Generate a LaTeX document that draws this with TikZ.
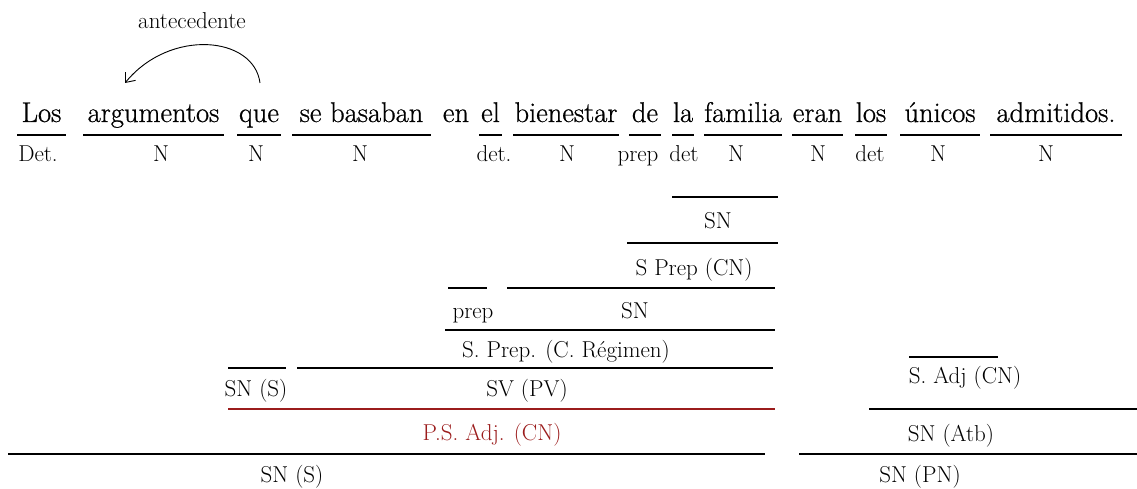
\documentclass[tikz,border=0pt]{standalone}
\usepackage{fontspec}
\newfontfamily\wordfont[FakeBold=0.7]{Latin Modern Roman}
\usetikzlibrary{arrows.meta}
\definecolor{adjred}{RGB}{155,28,28}
\tikzset{
  word/.style={anchor=base, inner sep=0pt, font=\wordfont\fontsize{28.5}{34}\selectfont},
  lbl/.style={anchor=base, inner sep=0pt, font=\fontsize{23}{28}\selectfont},
  redlbl/.style={lbl, text=adjred},
  rule/.style={line width=1.4pt},
  redrule/.style={line width=1.4pt, draw=adjred},
  refarrow/.style={line width=0.9pt, -{Straight Barb[length=8pt,width=13pt]}}
}
\begin{document}
\begin{tikzpicture}[x=1pt,y=-1pt]
\useasboundingbox (0,0) rectangle (1137,489);
% sentence
\node[word] (w1) at (41.5,122) {Los};
\node[word] (w2) at (153.5,122) {argumentos};
\node[word] (w3) at (259,122) {que};
\node[word] (w4) at (361.5,122) {se basaban};
\node[word] (w5) at (456,122) {en};
\node[word] (w6) at (490.5,122) {el};
\node[word] (w7) at (566,122) {bienestar};
\node[word] (w8) at (645,122) {de};
\node[word] (w9) at (683,122) {la};
\node[word] (w10) at (743,122) {familia};
\node[word] (w11) at (817.5,122) {eran};
\node[word] (w12) at (871,122) {los};
\node[word] (w13) at (940,122) {únicos};
\node[word] (w14) at (1056,122) {admitidos.};
% underlines
\foreach \a/\b in {17/66,83/224,237/281,292/431,479/502,513/619,629/661,672/694,704/782,792/843,855/887,900/980,990/1122}
  \draw[rule] (\a,135) -- (\b,135);
% word labels
\node[lbl] (c1) at (38,162) {Det.};
\node[lbl] (c2) at (161,162) {N};
\node[lbl] (c3) at (256,162) {N};
\node[lbl] (c4) at (360,162) {N};
\node[lbl] (c6) at (494,162) {det.};
\node[lbl] (c7) at (567,162) {N};
\node[lbl] (c8) at (638,162) {prep};
\node[lbl] (c9) at (684,162) {det};
\node[lbl] (c10) at (736,162) {N};
\node[lbl] (c11) at (818,162) {N};
\node[lbl] (c12) at (870,162) {det};
\node[lbl] (c13) at (938,162) {N};
\node[lbl] (c14) at (1046,162) {N};
% antecedent arrow
\node[lbl] (ant) at (192,29) {antecedente};
\coordinate (aS) at (260,83);
\coordinate (aE) at (125,83);
\draw[refarrow] (aS) .. controls (254,36) and (170,28) .. (aE);
% tree lines
\draw[rule] (672,197) -- (778,197);
\draw[rule] (627,243) -- (778,243);
\draw[rule] (448,288) -- (487,288);
\draw[rule] (507,288) -- (775,288);
\draw[rule] (445,330) -- (775,330);
\draw[rule] (228,368) -- (286,368);
\draw[rule] (297,368) -- (773,368);
\draw[redrule] (228,409) -- (775,409);
\draw[rule] (8,454) -- (765,454);
\draw[rule] (909,357) -- (998,357);
\draw[rule] (869,409) -- (1137,409);
\draw[rule] (799,454) -- (1137,454);
% tree labels
\node[lbl] (t1) at (718,228) {SN};
\node[lbl] (t2) at (694,275) {S Prep (CN)};
\node[lbl] (t3) at (473,318) {prep};
\node[lbl] (t4) at (635,318) {SN};
\node[lbl] (t5) at (566,357) {S. Prep. (C. Régimen)};
\node[lbl] (t6) at (256,396) {SN (S)};
\node[lbl] (t7) at (527,396) {SV (PV)};
\node[redlbl] (t8) at (492,440) {P.S. Adj. (CN)};
\node[lbl] (t9) at (292,482) {SN (S)};
\node[lbl] (t10) at (965,383) {S. Adj (CN)};
\node[lbl] (t11) at (951,441) {SN (Atb)};
\node[lbl] (t12) at (920,482) {SN (PN)};
\end{tikzpicture}
\end{document}
